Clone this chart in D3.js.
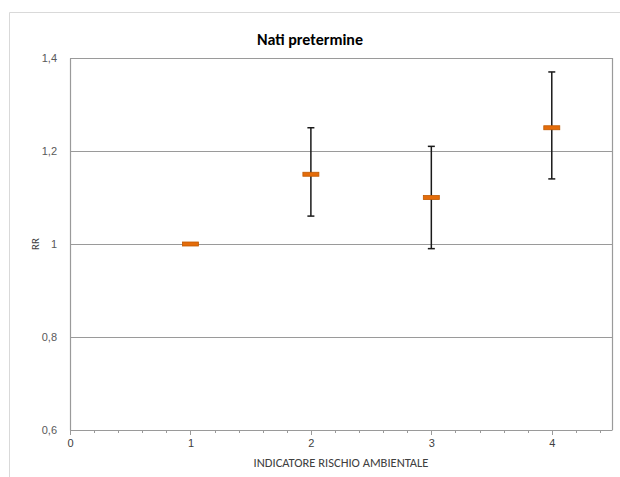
<!DOCTYPE html>
<html>
<head>
<meta charset="utf-8">
<script src="https://cdn.jsdelivr.net/npm/d3@7"></script>
<style>
  body { margin: 0; background: #fff; }
  svg { font-family: Calibri, Carlito, Lato, sans-serif; }
</style>
</head>
<body>
<svg id="chart" width="620" height="477"></svg>
<script>
const categories = [1, 2, 3, 4];
const rr_values = [1.0, 1.15, 1.10, 1.25];
const rr_low = [1.0, 1.06, 0.99, 1.14];
const rr_high = [1.0, 1.25, 1.21, 1.37];
const y_ticks = [0.6, 0.8, 1.0, 1.2, 1.4];
const x_ticks = [0, 1, 2, 3, 4];

const svg = d3.select('#chart');
const margin = { left: 70, right: 8, top: 58, bottom: 47 };
const width = 620 - margin.left - margin.right;
const height = 477 - margin.top - margin.bottom;

// outer chart border (only left/top visible in the picture)
svg.append('path')
  .attr('d', 'M9.5,477 V12.5 H620')
  .attr('fill', 'none')
  .attr('stroke', '#d9d9d9');

svg.append('text')
  .attr('x', 310)
  .attr('y', 45)
  .attr('text-anchor', 'middle')
  .attr('font-size', 16)
  .attr('font-weight', 'bold')
  .attr('fill', '#000')
  .text('Nati pretermine');

const x = d3.scaleLinear().domain([0, 4.5]).range([0, width]);
const y = d3.scaleLinear().domain([0.6, 1.4]).range([height, 0]);

const g = svg.append('g').attr('transform', `translate(${margin.left},${margin.top})`);

// gridlines
g.selectAll('.grid')
  .data(y_ticks.slice(1))
  .enter()
  .append('line')
  .attr('x1', 0)
  .attr('x2', width)
  .attr('y1', d => Math.round(y(d)) + 0.5)
  .attr('y2', d => Math.round(y(d)) + 0.5)
  .attr('stroke', '#9a9a9a')
  .attr('stroke-width', 1.2);

// right border of plot area
g.append('line')
  .attr('x1', width + 0.5).attr('x2', width + 0.5)
  .attr('y1', 0).attr('y2', height)
  .attr('stroke', '#9a9a9a').attr('stroke-width', 1.2);

// y axis
const y_axis = g.append('g')
  .call(d3.axisLeft(y).tickValues(y_ticks).tickSize(0).tickPadding(13)
    .tickFormat(d => d3.format('.1f')(d).replace('.0', '').replace('.', ',')));
y_axis.select('.domain').attr('stroke', '#9a9a9a').attr('stroke-width', 1.2);
y_axis.selectAll('text').attr('font-size', 11).attr('fill', '#595959');

// x axis: minor ticks
const minor = d3.range(0, 23).map(i => i * 0.2);
g.append('g')
  .attr('transform', `translate(0,${height})`)
  .selectAll('line')
  .data(minor)
  .enter()
  .append('line')
  .attr('x1', d => Math.round(x(d)) + 0.5)
  .attr('x2', d => Math.round(x(d)) + 0.5)
  .attr('y1', 0)
  .attr('y2', d => Number.isInteger(Math.round(d * 1000) / 1000) ? 5 : 3)
  .attr('stroke', '#9a9a9a');

const x_axis = g.append('g')
  .attr('transform', `translate(0,${height})`)
  .call(d3.axisBottom(x).tickValues(x_ticks).tickSize(0).tickPadding(9).tickFormat(d3.format('d')));
x_axis.select('.domain').attr('stroke', '#9a9a9a').attr('stroke-width', 1.2);
x_axis.selectAll('text').attr('font-size', 11).attr('fill', '#404040');

// axis titles
svg.append('text')
  .attr('x', margin.left + x(2.25))
  .attr('y', 467)
  .attr('text-anchor', 'middle')
  .attr('font-size', 12.5)
  .attr('fill', '#404040')
  .text('INDICATORE RISCHIO AMBIENTALE');

svg.append('text')
  .attr('transform', `translate(39,${margin.top + y(1.0)}) rotate(-90)`)
  .attr('text-anchor', 'middle')
  .attr('font-size', 11)
  .attr('fill', '#404040')
  .text('RR');

// error bars
const points = categories.map((c, i) => ({ c, v: rr_values[i], lo: rr_low[i], hi: rr_high[i] }));
const bars = g.selectAll('.err')
  .data(points.filter(d => d.hi > d.lo))
  .enter()
  .append('g');
bars.append('line')
  .attr('x1', d => x(d.c)).attr('x2', d => x(d.c))
  .attr('y1', d => y(d.lo)).attr('y2', d => y(d.hi))
  .attr('stroke', '#1a1a1a').attr('stroke-width', 1.5);
bars.selectAll('.cap')
  .data(d => [[d.c, d.lo], [d.c, d.hi]])
  .enter()
  .append('line')
  .attr('x1', d => x(d[0]) - 3.5).attr('x2', d => x(d[0]) + 3.5)
  .attr('y1', d => y(d[1])).attr('y2', d => y(d[1]))
  .attr('stroke', '#1a1a1a').attr('stroke-width', 1.5);

// markers
g.selectAll('.marker')
  .data(points)
  .enter()
  .append('rect')
  .attr('x', d => x(d.c) - 8)
  .attr('y', d => y(d.v) - 2)
  .attr('width', 16)
  .attr('height', 4)
  .attr('fill', '#e46c0a')
  .attr('stroke', '#c05a00')
  .attr('stroke-width', 0.8);
</script>
</body>
</html>
